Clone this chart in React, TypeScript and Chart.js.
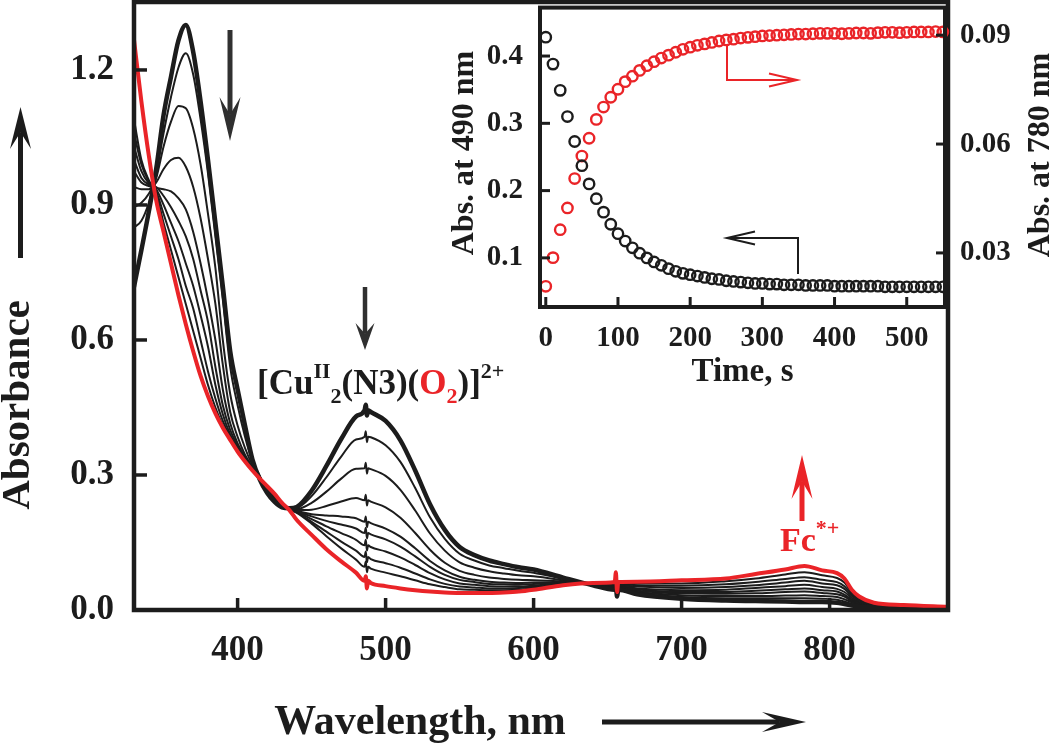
import React, { useEffect, useRef } from 'react';
import { Chart, registerables } from 'chart.js';

Chart.register(...registerables);

// ---------------- data ----------------
const WAVELENGTHS = [330, 335, 340, 345, 350, 355, 360, 365, 370, 375, 380, 385, 390, 395, 400, 405, 410, 415, 420, 425, 430, 435, 440, 450, 460, 470, 480, 485.8, 486.6, 487.4, 488.2, 490, 500, 510, 520, 530, 540, 550, 560, 570, 580, 590, 600, 620, 640, 654.8, 655.6, 656.4, 657.2, 670, 700, 730, 750, 770, 783, 795, 805, 810, 815, 820, 830, 850, 880];

const SPEC_INITIAL = [0.718, 0.8, 0.885, 0.98, 1.1, 1.185, 1.265, 1.3, 1.24, 1.13, 1.0, 0.86, 0.72, 0.575, 0.49, 0.41, 0.335, 0.29, 0.26, 0.24, 0.228, 0.226, 0.229, 0.265, 0.32, 0.38, 0.43, 0.444, 0.456, 0.432, 0.444, 0.44, 0.42, 0.377, 0.31, 0.235, 0.178, 0.14, 0.122, 0.11, 0.102, 0.095, 0.09, 0.072, 0.055, 0.045, 0.049, 0.03, 0.045, 0.035, 0.025, 0.021, 0.02, 0.019, 0.018, 0.018, 0.016, 0.013, 0.01, 0.008, 0.006, 0.005, 0.004];
const SPEC_T1 = [0.85, 0.865, 0.905, 0.97, 1.06, 1.14, 1.205, 1.237, 1.19, 1.09, 0.97, 0.83, 0.69, 0.54, 0.455, 0.385, 0.33, 0.298, 0.262, 0.243, 0.229, 0.226, 0.227, 0.253, 0.295, 0.341, 0.379, 0.385, 0.397, 0.373, 0.385, 0.384, 0.366, 0.329, 0.271, 0.206, 0.158, 0.125, 0.11, 0.099, 0.093, 0.087, 0.083, 0.069, 0.0555, 0.047, 0.051, 0.032, 0.047, 0.038, 0.029, 0.026, 0.026, 0.026, 0.026, 0.025, 0.023, 0.019, 0.0135, 0.01, 0.007, 0.0056, 0.004];
const SPEC_T2 = [0.895, 0.905, 0.925, 0.96, 1.03, 1.085, 1.12, 1.115, 1.07, 0.99, 0.88, 0.76, 0.6, 0.48, 0.41, 0.36, 0.322, 0.296, 0.264, 0.246, 0.231, 0.226, 0.224, 0.238, 0.263, 0.292, 0.314, 0.315, 0.327, 0.303, 0.315, 0.313, 0.298, 0.267, 0.221, 0.17, 0.132, 0.106, 0.094, 0.086, 0.081, 0.077, 0.075, 0.066, 0.056, 0.048, 0.052, 0.033, 0.048, 0.04, 0.033, 0.031, 0.031, 0.032, 0.033, 0.031, 0.029, 0.024, 0.017, 0.012, 0.008, 0.006, 0.0045];
const SPEC_T3 = [0.94, 0.935, 0.935, 0.95, 0.98, 1.0, 1.005, 0.985, 0.94, 0.87, 0.78, 0.68, 0.545, 0.44, 0.385, 0.345, 0.318, 0.295, 0.266, 0.249, 0.232, 0.225, 0.222, 0.223, 0.231, 0.241, 0.249, 0.244, 0.256, 0.232, 0.244, 0.241, 0.228, 0.205, 0.171, 0.134, 0.105, 0.087, 0.078, 0.072, 0.069, 0.067, 0.066, 0.063, 0.0565, 0.05, 0.054, 0.035, 0.05, 0.043, 0.037, 0.036, 0.037, 0.04, 0.041, 0.038, 0.035, 0.03, 0.02, 0.014, 0.009, 0.007, 0.005];
const SPEC_T4 = [0.975, 0.95, 0.942, 0.938, 0.935, 0.93, 0.915, 0.89, 0.84, 0.77, 0.69, 0.6, 0.49, 0.415, 0.37, 0.34, 0.316, 0.294, 0.268, 0.251, 0.233, 0.225, 0.22, 0.213, 0.21, 0.208, 0.204, 0.196, 0.208, 0.184, 0.196, 0.193, 0.181, 0.163, 0.137, 0.109, 0.088, 0.074, 0.067, 0.063, 0.061, 0.06, 0.061, 0.061, 0.057, 0.051, 0.055, 0.036, 0.051, 0.046, 0.04, 0.04, 0.043, 0.046, 0.048, 0.044, 0.041, 0.034, 0.023, 0.016, 0.01, 0.0072, 0.005];
const SPEC_T5 = [1.0, 0.96, 0.945, 0.94, 0.92, 0.895, 0.865, 0.83, 0.78, 0.71, 0.64, 0.54, 0.455, 0.4, 0.365, 0.338, 0.315, 0.293, 0.269, 0.253, 0.234, 0.225, 0.219, 0.208, 0.198, 0.19, 0.181, 0.171, 0.183, 0.159, 0.171, 0.168, 0.157, 0.141, 0.119, 0.096, 0.078, 0.067, 0.062, 0.058, 0.057, 0.056, 0.058, 0.06, 0.0574, 0.053, 0.057, 0.038, 0.053, 0.048, 0.044, 0.045, 0.049, 0.053, 0.056, 0.051, 0.047, 0.04, 0.027, 0.018, 0.011, 0.008, 0.0055];
const SPEC_T6 = [1.03, 0.975, 0.948, 0.935, 0.9, 0.86, 0.82, 0.77, 0.72, 0.655, 0.585, 0.5, 0.435, 0.39, 0.36, 0.335, 0.314, 0.293, 0.27, 0.254, 0.235, 0.224, 0.218, 0.202, 0.186, 0.171, 0.156, 0.144, 0.156, 0.132, 0.144, 0.14, 0.13, 0.117, 0.1, 0.082, 0.068, 0.059, 0.056, 0.053, 0.052, 0.052, 0.054, 0.059, 0.058, 0.055, 0.059, 0.04, 0.055, 0.052, 0.049, 0.051, 0.055, 0.061, 0.065, 0.059, 0.055, 0.047, 0.031, 0.021, 0.012, 0.0085, 0.006];
const SPEC_T7 = [1.06, 0.99, 0.952, 0.93, 0.88, 0.83, 0.78, 0.72, 0.67, 0.6, 0.53, 0.47, 0.42, 0.385, 0.36, 0.335, 0.313, 0.292, 0.272, 0.255, 0.236, 0.224, 0.217, 0.196, 0.174, 0.152, 0.132, 0.118, 0.13, 0.106, 0.118, 0.113, 0.104, 0.094, 0.081, 0.068, 0.058, 0.052, 0.05, 0.048, 0.048, 0.049, 0.051, 0.057, 0.0585, 0.057, 0.061, 0.042, 0.057, 0.055, 0.054, 0.057, 0.062, 0.069, 0.073, 0.067, 0.062, 0.053, 0.0345, 0.023, 0.013, 0.009, 0.006];
const SPEC_T8 = [1.09, 1.0, 0.955, 0.925, 0.86, 0.8, 0.74, 0.68, 0.62, 0.56, 0.5, 0.45, 0.41, 0.38, 0.355, 0.33, 0.31, 0.29, 0.273, 0.257, 0.237, 0.223, 0.216, 0.192, 0.164, 0.137, 0.112, 0.096, 0.108, 0.084, 0.096, 0.092, 0.083, 0.075, 0.066, 0.057, 0.051, 0.046, 0.045, 0.044, 0.044, 0.045, 0.049, 0.056, 0.059, 0.059, 0.063, 0.044, 0.059, 0.059, 0.059, 0.064, 0.07, 0.079, 0.084, 0.077, 0.071, 0.061, 0.039, 0.026, 0.014, 0.01, 0.0065];
const SPEC_FINAL = [1.267, 1.13, 1.01, 0.91, 0.84, 0.77, 0.7, 0.635, 0.575, 0.52, 0.475, 0.437, 0.405, 0.378, 0.352, 0.33, 0.31, 0.292, 0.275, 0.258, 0.238, 0.222, 0.2, 0.167, 0.135, 0.108, 0.083, 0.065, 0.075, 0.048, 0.065, 0.06, 0.053, 0.048, 0.044, 0.041, 0.039, 0.038, 0.038, 0.038, 0.039, 0.041, 0.045, 0.055, 0.06, 0.062, 0.084, 0.04, 0.062, 0.063, 0.066, 0.07, 0.08, 0.09, 0.098, 0.088, 0.082, 0.07, 0.045, 0.03, 0.016, 0.011, 0.007];

const TIME_S = [0, 10, 20, 30, 40, 50, 60, 70, 80, 90, 100, 110, 120, 130, 140, 150, 160, 170, 180, 190, 200, 210, 220, 230, 240, 250, 260, 270, 280, 290, 300, 310, 320, 330, 340, 350, 360, 370, 380, 390, 400, 410, 420, 430, 440, 450, 460, 470, 480, 490, 500, 510, 520, 530, 540, 550];
const ABS_490 = [0.428, 0.388, 0.349, 0.31, 0.273, 0.237, 0.21, 0.188, 0.168, 0.15, 0.136, 0.125, 0.115, 0.107, 0.1, 0.094, 0.089, 0.084, 0.08, 0.077, 0.075, 0.073, 0.071, 0.069, 0.068, 0.066, 0.065, 0.064, 0.063, 0.062, 0.062, 0.061, 0.061, 0.06, 0.06, 0.06, 0.059, 0.059, 0.059, 0.059, 0.058, 0.058, 0.058, 0.058, 0.058, 0.058, 0.058, 0.057, 0.057, 0.057, 0.057, 0.057, 0.057, 0.057, 0.057, 0.057];
const ABS_780 = [0.0208, 0.0287, 0.0364, 0.0424, 0.0505, 0.0567, 0.0616, 0.0668, 0.0702, 0.0729, 0.0751, 0.0772, 0.0787, 0.0803, 0.0816, 0.0827, 0.0837, 0.0845, 0.0853, 0.0861, 0.0867, 0.0872, 0.0876, 0.088, 0.0884, 0.0887, 0.0889, 0.0892, 0.0894, 0.0896, 0.0898, 0.0899, 0.09, 0.0901, 0.0902, 0.0903, 0.0903, 0.0904, 0.0905, 0.0905, 0.0905, 0.0904, 0.0905, 0.0906, 0.0906, 0.0905, 0.0907, 0.0908, 0.0908, 0.0907, 0.0908, 0.0909, 0.0909, 0.0909, 0.091, 0.0909];

const MAIN_X_TICKS = [400, 500, 600, 700, 800];
const MAIN_Y_TICKS = [0, 0.3, 0.6, 0.9, 1.2];
const INSET_X_TICKS = [0, 100, 200, 300, 400, 500];
const INSET_Y_TICKS = [0.1, 0.2, 0.3, 0.4];
const INSET_Y2_TICKS = [0.03, 0.06, 0.09];

// ---------------- styles ----------------
const FONT = "'Liberation Serif', 'Times New Roman', serif";
const INK = '#1c1c1c';
const RED = '#ea2428';
const GREY = '#303030';

function line(ctx: CanvasRenderingContext2D, x1: number, y1: number, x2: number, y2: number) {
  ctx.beginPath();
  ctx.moveTo(x1, y1);
  ctx.lineTo(x2, y2);
  ctx.stroke();
}

function solidArrow(ctx: CanvasRenderingContext2D, x1: number, y1: number, x2: number, y2: number, w: number, head: number, half: number, color: string) {
  const L = Math.hypot(x2 - x1, y2 - y1);
  const ux = (x2 - x1) / L, uy = (y2 - y1) / L;
  const nx = -uy, ny = ux;
  const notch = head * 0.6;
  ctx.save();
  ctx.strokeStyle = color;
  ctx.fillStyle = color;
  ctx.lineWidth = w;
  ctx.lineCap = 'butt';
  line(ctx, x1, y1, x2 - ux * notch, y2 - uy * notch);
  const bx = x2 - ux * head, by = y2 - uy * head;
  ctx.beginPath();
  ctx.moveTo(x2, y2);
  ctx.lineTo(bx + nx * half, by + ny * half);
  ctx.lineTo(x2 - ux * notch, y2 - uy * notch);
  ctx.lineTo(bx - nx * half, by - ny * half);
  ctx.closePath();
  ctx.fill();
  ctx.restore();
}

function openHead(ctx: CanvasRenderingContext2D, tx: number, ty: number, ux: number, uy: number, len: number, half: number) {
  const nx = -uy, ny = ux;
  const bx = tx - ux * len, by = ty - uy * len;
  ctx.beginPath();
  ctx.moveTo(bx + nx * half, by + ny * half);
  ctx.lineTo(tx, ty);
  ctx.lineTo(bx - nx * half, by - ny * half);
  ctx.stroke();
}

type Part = { t: string; s: number; dy?: number; c?: string };
function richText(ctx: CanvasRenderingContext2D, x: number, y: number, parts: Part[]) {
  let cx = x;
  ctx.save();
  ctx.textAlign = 'left';
  ctx.textBaseline = 'alphabetic';
  for (const p of parts) {
    ctx.font = `bold ${p.s}px ${FONT}`;
    ctx.fillStyle = p.c || INK;
    ctx.fillText(p.t, cx, y + (p.dy || 0));
    cx += ctx.measureText(p.t).width;
  }
  ctx.restore();
}

function rotatedText(ctx: CanvasRenderingContext2D, text: string, x: number, y: number, size: number) {
  ctx.save();
  ctx.translate(x, y);
  ctx.rotate(-Math.PI / 2);
  ctx.font = `bold ${size}px ${FONT}`;
  ctx.fillStyle = INK;
  ctx.textAlign = 'center';
  ctx.textBaseline = 'alphabetic';
  ctx.fillText(text, 0, 0);
  ctx.restore();
}

const mainDecor = {
  id: 'mainDecor',
  afterDraw(chart: any) {
    const { ctx, chartArea: a, scales } = chart;
    const x = scales.x, y = scales.y;
    ctx.save();
    ctx.strokeStyle = INK;
    ctx.lineWidth = 4.5;
    ctx.strokeRect(a.left, a.top, a.right - a.left, a.bottom - a.top);
    ctx.lineWidth = 3.5;
    x.ticks.forEach((t: any) => {
      const px = x.getPixelForValue(t.value);
      line(ctx, px, a.bottom, px, a.bottom - 12);
    });
    y.ticks.forEach((t: any) => {
      const py = y.getPixelForValue(t.value);
      line(ctx, a.left, py, a.left + 13, py);
    });
    // axis titles
    rotatedText(ctx, 'Absorbance', 29, 405, 41);
    ctx.font = `bold 42px ${FONT}`;
    ctx.fillStyle = INK;
    ctx.textAlign = 'center';
    ctx.textBaseline = 'alphabetic';
    ctx.fillText('Wavelength, nm', 420, 734);
    solidArrow(ctx, 20.5, 258, 20.5, 107, 5, 42, 10.5, INK);
    solidArrow(ctx, 602, 722, 806, 722, 5, 44, 10, INK);
    // annotation arrows
    solidArrow(ctx, 230, 30, 230, 141, 5, 44, 10.5, GREY);
    solidArrow(ctx, 365, 287, 365, 350, 4.5, 27, 9.5, GREY);
    solidArrow(ctx, 802, 521, 802, 455, 5, 44, 10.5, RED);
    // labels
    richText(ctx, 257, 394, [
      { t: '[Cu', s: 35 },
      { t: 'II', s: 22, dy: -16 },
      { t: '2', s: 22, dy: 9 },
      { t: '(N3)(', s: 35 },
      { t: 'O', s: 35, c: RED },
      { t: '2', s: 22, dy: 9, c: RED },
      { t: ')]', s: 35 },
      { t: '2+', s: 22, dy: -16 },
    ]);
    richText(ctx, 780, 551, [
      { t: 'Fc', s: 34, c: RED },
      { t: '*+', s: 22, dy: -16, c: RED },
    ]);
    ctx.restore();
  },
};

const insetDecor = {
  id: 'insetDecor',
  afterDraw(chart: any) {
    const { ctx, chartArea: a, scales } = chart;
    const x = scales.x, y = scales.y, y2 = scales.y2;
    ctx.save();
    ctx.strokeStyle = INK;
    ctx.lineWidth = 4;
    ctx.strokeRect(a.left, a.top, a.right - a.left, a.bottom - a.top);
    ctx.lineWidth = 3;
    x.ticks.forEach((t: any) => {
      const px = x.getPixelForValue(t.value);
      line(ctx, px, a.bottom, px, a.bottom - 10);
    });
    y.ticks.forEach((t: any) => {
      const py = y.getPixelForValue(t.value);
      line(ctx, a.left, py, a.left + 10, py);
    });
    y2.ticks.forEach((t: any) => {
      const py = y2.getPixelForValue(t.value);
      line(ctx, a.right, py, a.right - 9, py);
    });
    rotatedText(ctx, 'Abs. at 490 nm', 73, 153, 32);
    rotatedText(ctx, 'Abs. at 780 nm', 649, 155, 32);
    ctx.font = `bold 33px ${FONT}`;
    ctx.fillStyle = INK;
    ctx.textAlign = 'center';
    ctx.textBaseline = 'alphabetic';
    ctx.fillText('Time, s', (a.left + a.right) / 2, 381);
    // red pointer -> right axis
    ctx.lineWidth = 2;
    ctx.strokeStyle = RED;
    ctx.beginPath();
    ctx.moveTo(327, 46);
    ctx.lineTo(327, 80);
    ctx.lineTo(397, 80);
    ctx.stroke();
    openHead(ctx, 397, 80, 1, 0, 28, 6.5);
    // black pointer -> left axis
    ctx.strokeStyle = INK;
    ctx.beginPath();
    ctx.moveTo(398, 274);
    ctx.lineTo(398, 238);
    ctx.lineTo(327, 238);
    ctx.stroke();
    openHead(ctx, 327, 238, -1, 0, 28, 6.5);
    ctx.restore();
  },
};

function tickFont(size: number) {
  return { family: FONT, size, weight: 'bold' as const };
}

const fixV = (w: number) => (s: any) => { s.width = w; s.paddingTop = 0; s.paddingBottom = 0; };
const fixH = (h: number) => (s: any) => { s.height = h; s.paddingLeft = 0; s.paddingRight = 0; };

export default function App() {
  const mainRef = useRef<HTMLCanvasElement>(null);
  const insetRef = useRef<HTMLCanvasElement>(null);

  useEffect(() => {
    const toXY = (arr: number[]) => WAVELENGTHS.map((w, i) => ({ x: w, y: arr[i] }));
    const thin = [SPEC_T1, SPEC_T2, SPEC_T3, SPEC_T4, SPEC_T5, SPEC_T6, SPEC_T7, SPEC_T8];
    const datasets: any[] = [
      { data: toXY(SPEC_FINAL), borderColor: RED, borderWidth: 4 },
      { data: toXY(SPEC_INITIAL), borderColor: INK, borderWidth: 4.5 },
      ...thin.map((arr) => ({ data: toXY(arr), borderColor: INK, borderWidth: 2 })),
    ];

    const main = new Chart(mainRef.current as HTMLCanvasElement, {
      type: 'line',
      data: { datasets },
      options: {
        animation: false,
        responsive: false,
        devicePixelRatio: 1,
        layout: { padding: { left: 0, right: 102, top: 2, bottom: 0 } },
        elements: { point: { radius: 0 }, line: { cubicInterpolationMode: 'monotone', borderCapStyle: 'round', borderJoinStyle: 'round' } },
        plugins: { legend: { display: false }, tooltip: { enabled: false } },
        scales: {
          x: {
            type: 'linear',
            min: 330,
            max: 880,
            grid: { display: false, drawTicks: false },
            border: { display: false },
            afterBuildTicks: (s: any) => { s.ticks = MAIN_X_TICKS.map((v) => ({ value: v })); },
            afterFit: fixH(134),
            ticks: { padding: 20, font: tickFont(35), color: INK, maxRotation: 0, autoSkip: false, callback: (v: any) => String(v) },
          },
          y: {
            type: 'linear',
            min: 0,
            max: 1.351,
            grid: { display: false, drawTicks: false },
            border: { display: false },
            afterBuildTicks: (s: any) => { s.ticks = MAIN_Y_TICKS.map((v) => ({ value: v })); },
            afterFit: fixV(134),
            ticks: { padding: 20, font: tickFont(35), color: INK, autoSkip: false, callback: (v: any) => Number(v).toFixed(1) },
          },
        },
      },
      plugins: [mainDecor],
    } as any);

    const inset = new Chart(insetRef.current as HTMLCanvasElement, {
      type: 'scatter',
      data: {
        datasets: [
          {
            data: TIME_S.map((t, i) => ({ x: t, y: ABS_490[i] })),
            yAxisID: 'y',
            borderColor: INK,
            backgroundColor: 'rgba(0,0,0,0)',
            pointRadius: 5.2,
            pointBorderWidth: 2.4,
            clip: 8,
          },
          {
            data: TIME_S.map((t, i) => ({ x: t, y: ABS_780[i] })),
            yAxisID: 'y2',
            borderColor: RED,
            backgroundColor: 'rgba(0,0,0,0)',
            pointRadius: 5.2,
            pointBorderWidth: 2.4,
            clip: 8,
          },
        ],
      },
      options: {
        animation: false,
        responsive: false,
        devicePixelRatio: 1,
        layout: { padding: { left: 0, right: 0, top: 2, bottom: 0 } },
        plugins: { legend: { display: false }, tooltip: { enabled: false } },
        scales: {
          x: {
            type: 'linear',
            min: -8,
            max: 553,
            grid: { display: false, drawTicks: false },
            border: { display: false },
            afterBuildTicks: (s: any) => { s.ticks = INSET_X_TICKS.map((v) => ({ value: v })); },
            afterFit: fixH(93),
            ticks: { padding: 14, font: tickFont(29), color: INK, maxRotation: 0, autoSkip: false, callback: (v: any) => String(v) },
          },
          y: {
            type: 'linear',
            position: 'left',
            min: 0.027,
            max: 0.472,
            grid: { display: false, drawTicks: false },
            border: { display: false },
            afterBuildTicks: (s: any) => { s.ticks = INSET_Y_TICKS.map((v) => ({ value: v })); },
            afterFit: fixV(140),
            ticks: { padding: 17, font: tickFont(29), color: INK, autoSkip: false, callback: (v: any) => Number(v).toFixed(1) },
          },
          y2: {
            type: 'linear',
            position: 'right',
            min: 0.0151,
            max: 0.0976,
            grid: { display: false, drawTicks: false },
            border: { display: false },
            afterBuildTicks: (s: any) => { s.ticks = INSET_Y2_TICKS.map((v) => ({ value: v })); },
            afterFit: fixV(105),
            ticks: { padding: 15, font: tickFont(29), color: INK, autoSkip: false, callback: (v: any) => Number(v).toFixed(2) },
          },
        },
      },
      plugins: [insetDecor],
    } as any);

    return () => {
      main.destroy();
      inset.destroy();
    };
  }, []);

  return (
    <div style={{ position: 'absolute', left: 0, top: 0, width: 1050, height: 744, background: '#ffffff', overflow: 'hidden' }}>
      <canvas ref={mainRef} width={1050} height={744} style={{ position: 'absolute', left: 0, top: 0, width: 1050, height: 744 }} />
      <canvas ref={insetRef} width={650} height={400} style={{ position: 'absolute', left: 400, top: 0, width: 650, height: 400 }} />
    </div>
  );
}
